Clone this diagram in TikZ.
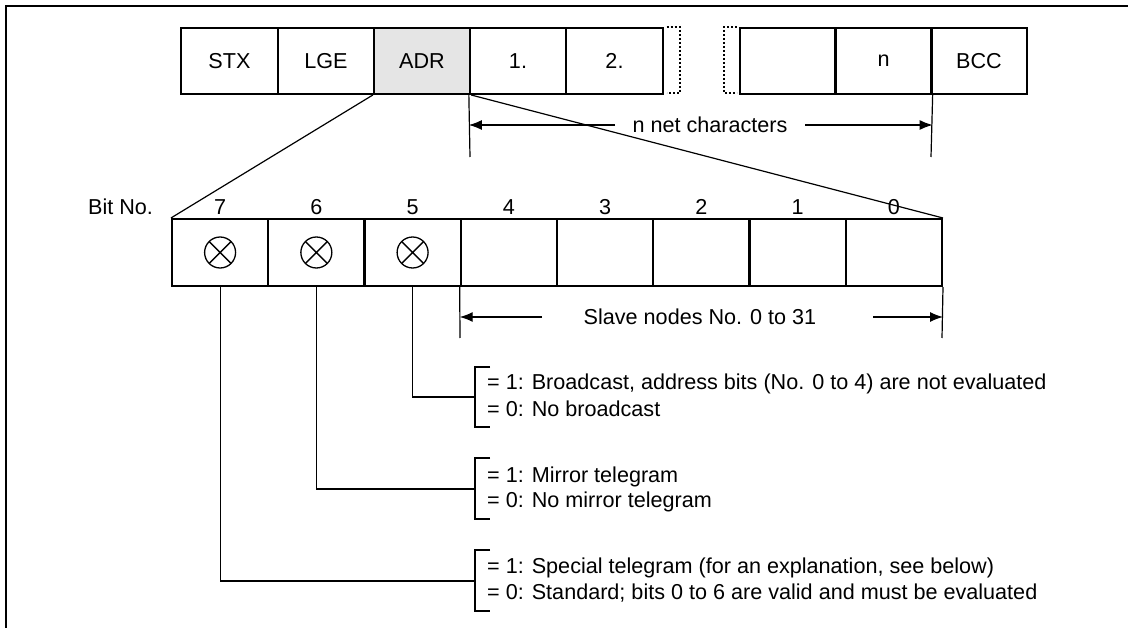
\documentclass[tikz,border=0pt]{standalone}
\usepackage{fontspec}
\setmainfont{Liberation Sans}
\usetikzlibrary{arrows.meta}
\begin{document}
\begin{tikzpicture}[x=1pt,y=-1pt,
  fs/.style={font=\fontsize{21.6}{25}\selectfont},
  cell/.style={draw, line width=2pt, minimum width=96.3pt, minimum height=66pt, inner sep=0pt, fs},
  thin/.style={line width=1.2pt},
  dim/.style={line width=1.2pt, -{Latex[length=13pt,width=10pt]}},
  dots/.style={line width=2pt, dotted},
  lbl/.style={fs, inner sep=0pt},
  xcirc/.style={draw, circle, line width=1.3pt, minimum size=31pt, inner sep=0pt, path picture={
      \draw[line width=1.3pt] (path picture bounding box.north west) -- (path picture bounding box.south east)
        (path picture bounding box.north east) -- (path picture bounding box.south west);}},
]
\useasboundingbox (0,0) rectangle (1128,628);
% frame
\draw[line width=2.5pt] (6,628) -- (6,6) -- (1128,6);

% top telegram row
\node[cell] (stx) at (229.5,61) {STX};
\node[cell] (lge) at (326,61) {LGE};
\node[cell, fill=black!10] (adr) at (422,61) {ADR};
\node[cell] (c1) at (518,61) {1.};
\node[cell] (c2) at (614.5,61) {2.};
\node[cell] (cx) at (788,61) {};
\node[cell] (cn) at (883.5,61) {n};
\node[cell] (bcc) at (979,61) {BCC};
\draw[dots] ([xshift=3pt]c2.north east) -- ++(13,0) -- ++(0,66) -- ++(-13,0);
\draw[dots] ([xshift=-2pt]cx.north west) -- ++(-13,0) -- ++(0,66) -- ++(13,0);

% n net characters
\coordinate (d1) at (470,157);
\coordinate (d2) at (931,157);
\draw[thin] (c1.south west) -- (d1);
\draw[thin] (cn.south east) -- (d2);
\node[lbl] (nnet) at (710,125) {n net characters};
\coordinate (nl) at (615,125);
\coordinate (nr) at (805,125);
\draw[dim] (nl) -- (c1.south west |- nl);
\draw[dim] (nr) -- (cn.south east |- nr);

% bit row
\foreach \i/\n in {7/0,6/1,5/2,4/3,3/4,2/5,1/6,0/7}{
  \node[cell, minimum height=67pt] (b\i) at (220.1+96.25*\n,252.5) {};
  \node[lbl] (bn\i) at (220.1+96.25*\n,207) {\i};
}
\node[lbl, anchor=west] (bitno) at (88,207) {Bit No.};
\draw[thin] (adr.south west) -- (b7.north west);
\draw[thin] (adr.south east) -- (b0.north east);
\foreach \i in {7,6,5}{
  \node[xcirc] (x\i) at (b\i.center) {};
}

% slave nodes
\coordinate (s1) at (460,338);
\coordinate (s2) at (942,338);
\draw[thin] (b4.south west) -- (s1);
\draw[thin] (b0.south east) -- (s2);
\node[lbl] (slave) at (700,317) {Slave nodes No. 0 to 31};
\coordinate (sl) at (542,317);
\coordinate (sr) at (873,317);
\draw[dim] (sl) -- (b4.south west |- sl);
\draw[dim] (sr) -- (b0.south east |- sr);

% brackets and texts
\coordinate (k5) at (475,397);
\coordinate (k6) at (475,489);
\coordinate (k7) at (475,581);
\draw[thin] (b5.south) |- (k5);
\draw[thin] (b6.south) |- (k6);
\draw[thin] (b7.south) |- (k7);
\draw[thin] (490,367) -- (475,367) -- (475,427) -- (490,427);
\draw[thin] (490,458) -- (475,458) -- (475,519) -- (490,519);
\draw[thin] (490,550) -- (475,550) -- (475,611) -- (490,611);
\node[lbl, anchor=west] (t51) at (487,384) {= 1: Broadcast, address bits (No. 0 to 4) are not evaluated};
\node[lbl, anchor=west] (t50) at (487,409) {= 0: No broadcast};
\node[lbl, anchor=west] (t61) at (487,477) {= 1: Mirror telegram};
\node[lbl, anchor=west] (t60) at (487,502) {= 0: No mirror telegram};
\node[lbl, anchor=west] (t71) at (487,568) {= 1: Special telegram (for an explanation, see below)};
\node[lbl, anchor=west] (t70) at (487,593) {= 0: Standard; bits 0 to 6 are valid and must be evaluated};
\end{tikzpicture}
\end{document}
